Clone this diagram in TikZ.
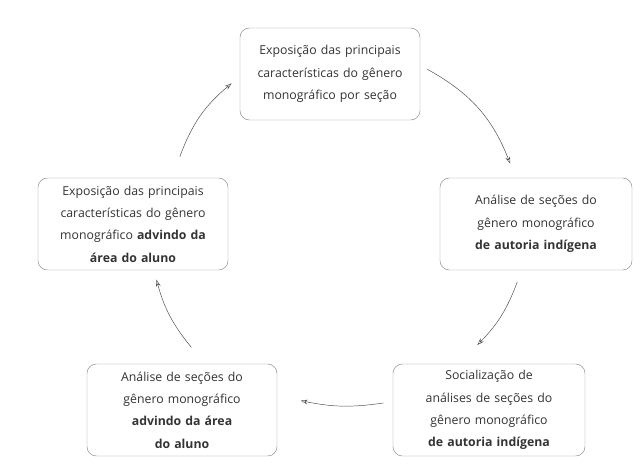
\documentclass[tikz,border=0pt]{standalone}
\usepackage{fontspec}
\setmainfont{Open Sans}
\usetikzlibrary{arrows.meta}
\tikzset{
  etapa/.style={draw=black!45,rounded corners=8pt,align=center,text=black!85,
    minimum height=92*0.03cm,inner sep=2pt,
    font=\fontsize{10.5}{19}\selectfont\addfontfeature{Color=333333}},
  seta/.style={->,black!70,thin,>={Stealth[length=6pt,width=4pt,open]}}
}
\begin{document}
\begin{tikzpicture}[x=0.03cm,y=-0.03cm]
  \useasboundingbox (0,0) rectangle (644,472);
  \node[etapa,text width=180*0.03cm-4pt] (expo) at (330,74) {Exposição das principais\\características do gênero\\monográfico por seção};
  \node[etapa,text width=192*0.03cm-4pt] (anind) at (536,224) {Análise de seções do\\gênero monográfico\\\textbf{de autoria indígena}};
  \node[etapa,text width=192*0.03cm-4pt] (social) at (489,410) {Socialização de\\análises de seções do\\gênero monográfico\\\textbf{de autoria indígena}};
  \node[etapa,text width=190*0.03cm-4pt] (analuno) at (182,410) {Análise de seções do\\gênero monográfico\\\textbf{advindo da área}\\\textbf{do aluno}};
  \node[etapa,text width=190*0.03cm-4pt] (expaluno) at (133,224) {Exposição das principais\\características do gênero\\monográfico \textbf{advindo da}\\\textbf{área do aluno}};

  \draw[seta] ([xshift=6pt,yshift=4pt]expo.east) to[bend left=20] ([xshift=-22pt,yshift=12pt]anind.north);
  \draw[seta] ([xshift=-16pt,yshift=-10pt]anind.south) to[bend left=12] ([xshift=-10pt,yshift=16pt]social.north);
  \draw[seta] ([xshift=-8pt,yshift=6pt]social.west) to[bend left=10] ([xshift=20pt,yshift=8pt]analuno.east);
  \draw[seta] ([xshift=8pt,yshift=14pt]analuno.north) to[bend left=12] ([xshift=20pt,yshift=-8pt]expaluno.south);
  \draw[seta] ([xshift=40pt,yshift=18pt]expaluno.north) to[bend left=15] ([xshift=-7pt,yshift=-8pt]expo.west);
\end{tikzpicture}
\end{document}
